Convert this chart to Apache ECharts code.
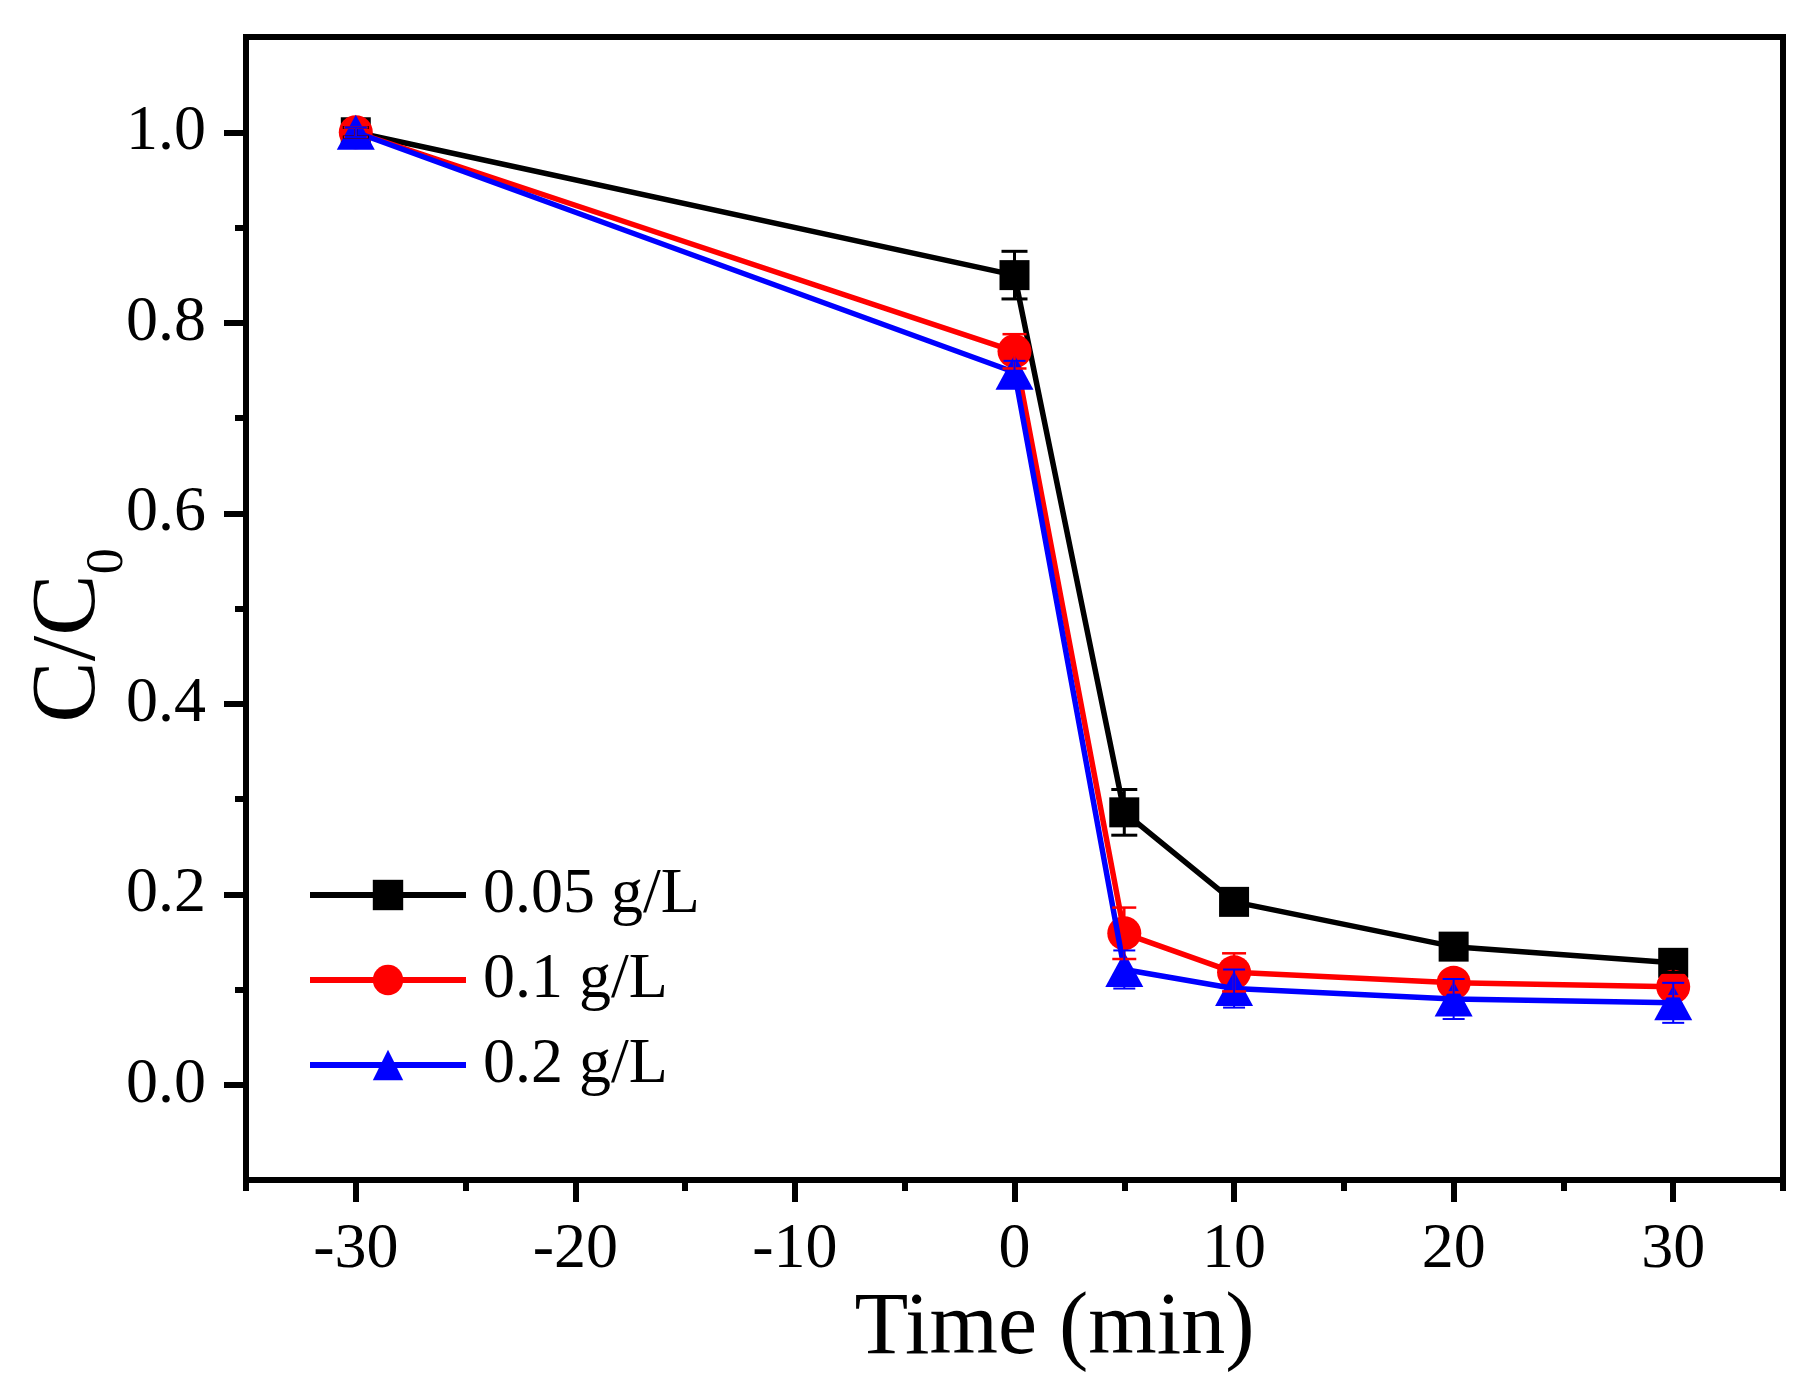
<!DOCTYPE html>
<html>
<head>
<meta charset="utf-8">
<script src="https://cdn.jsdelivr.net/npm/echarts@6/dist/echarts.min.js"></script>
<style>
html,body{margin:0;padding:0;background:#fff;}
#chart{width:1815px;height:1383px;}
</style>
</head>
<body>
<div id="chart"></div>
<script>
// ---- data ----
const times = [-30, 0, 5, 10, 20, 30];
const seriesNames = ['0.05 g/L', '0.1 g/L', '0.2 g/L'];
const c005 = [1.0, 0.850, 0.286, 0.192, 0.145, 0.128];
const c01  = [1.0, 0.770, 0.159, 0.118, 0.107, 0.103];
const c02  = [1.0, 0.748, 0.121, 0.101, 0.090, 0.086];
const err005 = [0.005, 0.025, 0.024, 0.010, 0.010, 0.010];
const err01  = [0.005, 0.018, 0.027, 0.020, 0.010, 0.010];
const err02  = [0.005, 0.012, 0.020, 0.020, 0.021, 0.021];
const xMajorTicks = [-30, -20, -10, 0, 10, 20, 30];
const xMinorTicks = [-35, -25, -15, -5, 5, 15, 25, 35];
const yMajorTicks = [0, 0.2, 0.4, 0.6, 0.8, 1.0];
const yMinorTicks = [0.1, 0.3, 0.5, 0.7, 0.9];

const FONT = '"Liberation Serif", "Times New Roman", serif';
const colors = ['#000000', '#ff0000', '#0000ff'];
const symbols = ['rect', 'circle', 'triangle'];
const symSizes = [30, 34, [38, 35]];
const values = [c005, c01, c02];
const errs = [err005, err01, err02];
const capHalf = [13, 12, 11];
const errWidth = [3, 2.5, 2];

const chart = echarts.init(document.getElementById('chart'), null, {renderer: 'canvas'});

const lineSeries = values.map((vals, i) => ({
  name: seriesNames[i],
  type: 'line',
  xAxisIndex: 0, yAxisIndex: 0,
  data: times.map((t, k) => [t, vals[k]]),
  symbol: symbols[i],
  symbolSize: symSizes[i],
  itemStyle: {color: colors[i]},
  lineStyle: {color: colors[i], width: 5.5},
  z: 2 + i * 0.1,
  animation: false
}));

const errSeries = values.map((vals, i) => ({
  name: seriesNames[i] + ' err',
  type: 'custom',
  xAxisIndex: 0, yAxisIndex: 0,
  data: times.map((t, k) => [t, vals[k], errs[i][k]]),
  z: 3,
  animation: false,
  renderItem: function (params, api) {
    const x = api.value(0), y = api.value(1), e = api.value(2);
    const top = api.coord([x, y + e]);
    const bot = api.coord([x, y - e]);
    const st = {stroke: colors[i], lineWidth: errWidth[i]};
    const h = capHalf[i];
    return {
      type: 'group',
      children: [
        {type: 'line', shape: {x1: top[0], y1: top[1], x2: bot[0], y2: bot[1]}, style: st},
        {type: 'line', shape: {x1: top[0] - h, y1: top[1], x2: top[0] + h, y2: top[1]}, style: st},
        {type: 'line', shape: {x1: bot[0] - h, y1: bot[1], x2: bot[0] + h, y2: bot[1]}, style: st}
      ]
    };
  }
}));

const option = {
  backgroundColor: '#ffffff',
  animation: false,
  grid: {
    left: 246, right: 32, top: 37, bottom: 203,
    containLabel: false, outerBoundsMode: 'none',
    show: true, borderColor: '#000', borderWidth: 6, backgroundColor: 'transparent'
  },
  legend: {
    data: seriesNames,
    orient: 'vertical',
    left: 307, top: 863,
    padding: 0,
    itemWidth: 156, itemHeight: 38, itemGap: 21,
    lineStyle: {width: 6},
    textStyle: {fontFamily: FONT, fontSize: 64, color: '#000', lineHeight: 64, padding: [0, 0, 0, 12]}
  },
  xAxis: [{
    type: 'value', min: -35, max: 35, interval: 5,
    name: 'Time (min)', nameLocation: 'middle', nameGap: 106, nameMoveOverlap: false,
    nameTextStyle: {fontFamily: FONT, fontSize: 88, color: '#000', padding: [0, 0, 0, 80]},
    axisLine: {show: true, onZero: false, lineStyle: {color: '#000', width: 6}},
    axisTick: {show: true, inside: false, length: 22, customValues: xMajorTicks, lineStyle: {color: '#000', width: 6}},
    axisLabel: {show: true, customValues: xMajorTicks, margin: 38, fontFamily: FONT, fontSize: 64, color: '#000'},
    splitLine: {show: false}
  }, {
    type: 'value', min: -35, max: 35, interval: 5, position: 'bottom',
    axisLine: {show: false, onZero: false},
    axisTick: {show: true, length: 11, customValues: xMinorTicks, lineStyle: {color: '#000', width: 6}},
    axisLabel: {show: false},
    splitLine: {show: false}
  }],
  yAxis: [{
    type: 'value', min: -0.1, max: 1.1, interval: 0.1,
    name: '{a|C/C}{b|0}', nameLocation: 'middle', nameGap: 130, nameRotate: 90, nameMoveOverlap: false,
    nameTextStyle: {
      color: '#000', padding: [0, 54, 0, 0],
      rich: {
        a: {fontFamily: FONT, fontSize: 92, color: '#000', lineHeight: 92, verticalAlign: 'top'},
        b: {fontFamily: FONT, fontSize: 52, color: '#000', lineHeight: 60, padding: [58, 0, 0, 0], verticalAlign: 'top'}
      }
    },
    axisLine: {show: true, onZero: false, lineStyle: {color: '#000', width: 6}},
    axisTick: {show: true, length: 22, customValues: yMajorTicks, lineStyle: {color: '#000', width: 6}},
    axisLabel: {show: true, customValues: yMajorTicks, margin: 40, fontFamily: FONT, fontSize: 64, color: '#000',
      formatter: v => Number(v).toFixed(1)},
    splitLine: {show: false}
  }, {
    type: 'value', min: -0.1, max: 1.1, interval: 0.1, position: 'left',
    axisLine: {show: false, onZero: false},
    axisTick: {show: true, length: 11, customValues: yMinorTicks, lineStyle: {color: '#000', width: 6}},
    axisLabel: {show: false},
    splitLine: {show: false}
  }],
  series: lineSeries.concat(errSeries)
};
chart.setOption(option);
</script>
</body>
</html>
